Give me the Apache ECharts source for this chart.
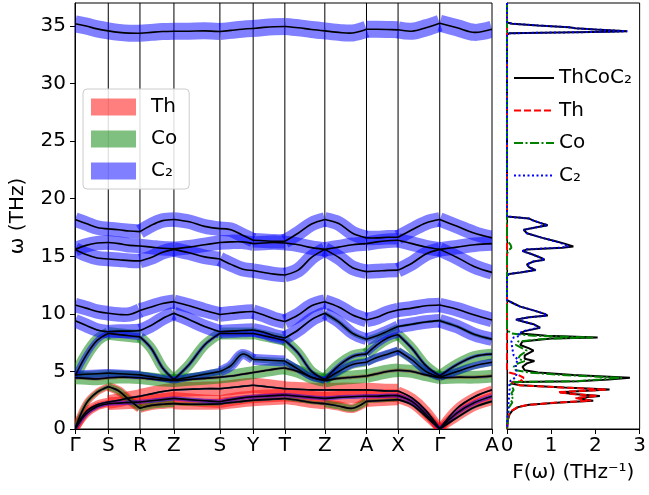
<!DOCTYPE html>
<html><head><meta charset="utf-8">
<script src="https://cdn.jsdelivr.net/npm/echarts@6/dist/echarts.min.js"></script>
<style>html,body{margin:0;padding:0;background:#fff}#c{width:649px;height:495px}</style>
</head><body><div id="c"></div>
<script>
// ---- k-path ----
const kLabels = ['Γ','S','R','Z','S','Y','T','Z','A','X','Γ','A'];
const kTicks = [0, 33.3, 65, 99, 145, 178.3, 210, 250, 291.7, 323.3, 365, 417.3];
const kGrid = [0,11.1,22.2, 33.3,43.9,54.4, 65,76.3,87.7, 99,114.3,129.7, 145,156.1,167.2,
  178.3,188.9,199.4, 210,223.3,236.7, 250,263.9,277.8, 291.7,302.2,312.8, 323.3,337.2,351.1, 365,382.4,399.9, 417.3];

// ---- phonon bands (THz) at kGrid ----
const bandTop = [35.2,35.0,34.75, 34.58,34.45,34.38, 34.37,34.45,34.52, 34.55,34.55,34.58, 34.52,34.62,34.72, 34.78,34.88,34.94, 34.96,34.85,34.7, 34.58,34.45,34.4, 34.72,34.72,34.7, 34.67,34.55,34.85, 35.25,34.85,34.45, 34.72];
const bandA = [18.2,17.85,17.5, 17.38,17.3,17.2, 17.14,17.7,18.1, 18.2,18.0,17.6, 17.4,17.3,16.85, 16.4,16.35,16.3, 16.3,17.0,17.8, 18.2,17.85,17.0, 16.6,16.6,16.65, 16.65,17.3,17.9, 18.2,17.6,17.0, 16.6];
const bandB = [15.6,15.95,16.15, 16.2,16.1,15.95, 15.9,15.8,15.7, 15.65,15.8,16.0, 16.2,16.25,16.25, 16.1,16.15,16.2, 16.15,16.0,15.75, 15.6,15.8,16.0, 16.1,16.25,16.35, 16.4,16.1,15.8, 15.6,15.8,16.0, 16.1];
const bandC = [15.6,15.15,14.85, 14.77,14.7,14.62, 14.6,14.9,15.35, 15.6,15.3,14.95, 14.77,14.3,13.9, 13.76,13.6,13.45, 13.38,13.8,14.9, 15.6,14.9,14.0, 13.67,13.72,13.78, 13.8,14.4,15.2, 15.6,14.9,14.1, 13.6];
const bandD = [10.77,10.5,10.2, 10.05,9.95,9.95, 10.3,10.6,10.9, 11.06,10.7,10.3, 9.95,10.05,10.15, 10.2,9.9,9.55, 9.33,9.9,10.7, 11.06,10.6,9.9, 9.47,9.7,10.1, 10.34,10.5,10.7, 10.77,10.4,9.9, 9.47];
const bandE = [9.41,9.0,8.6, 8.45,8.5,8.5, 8.55,9.0,9.6, 10.05,9.5,8.9, 8.45,8.5,8.55, 8.6,8.4,8.1, 7.9,8.6,9.5, 10.05,9.3,8.3, 7.8,8.1,8.5, 8.9,9.1,9.3, 9.41,8.9,8.2, 7.8];
const bandF = [4.6,6.4,7.7, 8.3,8.2,8.1, 8.0,7.0,5.3, 4.3,5.6,7.3, 8.3,8.3,8.3, 8.3,8.1,7.9, 7.7,6.6,5.0, 4.3,5.5,6.3, 6.5,7.3,7.9, 8.2,7.0,5.5, 4.6,5.6,6.3, 6.5];
const bandO5 = [4.7,4.75,4.8, 4.85,4.8,4.75, 4.7,4.55,4.4, 4.25,4.5,4.75, 5.0,5.5,6.5, 6.05,6.0,5.95, 5.9,5.2,4.5, 4.25,5.0,5.6, 5.8,6.2,6.5, 6.8,6.0,5.0, 4.5,5.0,5.5, 5.8];
const bandO4 = [4.45,4.4,4.35, 4.45,4.5,4.5, 4.45,4.35,4.25, 4.2,4.3,4.4, 4.5,4.6,4.75, 4.9,5.05,5.2, 5.3,5.0,4.5, 4.2,4.4,4.5, 4.6,4.8,5.0, 5.1,5.0,4.7, 4.45,4.5,4.5, 4.6];
const bandAcA = [0,2.2,3.2, 3.68,3.3,2.5, 1.8,2.05,2.15, 2.2,2.15,2.15, 2.17,2.3,2.4, 2.5,2.55,2.6, 2.65,2.5,2.3, 2.2,2.0,1.8, 2.4,2.45,2.5, 2.55,2.1,1.1, 0,1.0,1.9, 2.4];
const bandAcB = [0,1.5,2.1, 2.35,2.5,2.7, 2.85,3.05,3.25, 3.39,3.45,3.5, 3.5,3.6,3.7, 3.8,3.7,3.6, 3.5,3.45,3.4, 3.39,3.4,3.4, 3.4,3.35,3.3, 3.3,2.7,1.6, 0,1.8,2.8, 3.4];
const bandAcC = [0,1.3,1.95, 2.2,2.25,2.3, 2.35,2.45,2.55, 2.66,2.55,2.45, 2.37,2.55,2.7, 2.8,2.85,2.9, 2.95,2.85,2.75, 2.66,2.75,2.8, 2.85,2.85,2.9, 2.9,2.4,1.3, 0,1.4,2.3, 2.85];
const bands = [bandTop, bandA, bandB, bandC, bandD, bandE, bandF, bandO5, bandO4, bandAcA, bandAcB, bandAcC];

// ---- projection weights per band (rows) per path segment (11 cols) ----
const wTh = [
  [0,0,0,0,0,0,0,0,0,0,0],[0,0,0,0,0,0,0,0,0,0,0],[0,0,0,0,0,0,0,0,0,0,0],[0,0,0,0,0,0,0,0,0,0,0],
  [0,0,0,0,0,0,0,0,0,0,0],[0,0,0,0,0,0,0,0,0,0,0],[0,0,0,0,0,0,0,0,0,0,0],[0,0,0,0,0,0,0,0,0,0,0],
  [.2,.2,.2,.2,.15,.15,.2,.2,.2,.2,.2],
  [.4,.55,.55,.65,.7,.7,.65,.55,.65,.45,.45],
  [.5,.8,.85,.85,.9,.9,.85,.85,.85,.55,.5],
  [.45,.75,.75,.75,.75,.75,.75,.75,.75,.45,.45]];
const wCo = [
  [0,0,0,0,0,0,0,0,0,0,0],[0,0,0,0,0,0,0,0,0,0,0],[0,0,0,0,0,0,0,0,0,0,0],[0,0,0,0,0,0,0,0,0,0,0],
  [0,0,0,0,0,0,0,0,0,0,0],
  [.1,.15,.1,.1,.1,.1,.1,.25,.3,.15,.2],
  [.7,.75,.6,.6,.7,.65,.6,.7,.7,.6,.65],
  [.4,.4,.4,.4,.35,.35,.4,.5,.45,.45,.45],
  [.75,.75,.75,.75,.75,.75,.75,.8,.8,.75,.75],
  [.25,.4,.4,.2,.15,.15,.2,.4,.2,.15,.15],
  [.1,.1,.1,.1,.1,.1,.1,.1,.1,.1,.1],
  [.05,.05,.05,.05,.05,.05,.05,.05,.05,.05,.05]];
const wC2 = [
  [1,1,1,1,1,1,1,1,1,1,1],
  [.85,.85,.85,.85,.85,.85,.85,.85,.85,.85,.85],
  [.85,.85,.85,.85,.85,.85,.85,.85,.85,.85,.85],
  [.85,.85,.85,.85,.85,.85,.85,.85,.85,.85,.85],
  [.85,.85,.85,.85,.85,.85,.85,.85,.85,.85,.85],
  [.8,.8,.8,.8,.8,.8,.8,.7,.7,.8,.8],
  [.35,.4,.2,.2,.35,.35,.2,.25,.35,.2,.2],
  [.5,.5,.4,.4,.6,.65,.4,.4,.5,.4,.4],
  [.1,.1,.1,.1,.1,.1,.1,.1,.1,.1,.1],
  [.1,.1,.1,.1,.1,.1,.1,.1,.1,.1,.1],
  [.1,.1,.1,.1,.1,.1,.1,.1,.1,.1,.1],
  [.25,.25,.25,.25,.25,.25,.25,.25,.25,.25,.25]];

// ---- phonon DOS: [F(w) (1/THz), w (THz)] ----
const dosTot = [[0,37],[0,35.3],[0.02,35.22],[0.12,35.2],[0.7,35.05],[1.4,34.9],[1.55,34.8],[2.0,34.7],[2.72,34.55],[2.3,34.5],[0.8,34.42],[0.05,34.37],[0,34.25],
 [0,18.45],[0.03,18.32],[0.5,18.28],[0.6,18.1],[0.75,17.9],[0.92,17.7],[0.7,17.55],[0.38,17.3],[0.45,17.0],[0.8,16.6],[1.1,16.3],[1.3,16.1],[1.5,15.85],[1.25,15.75],[0.45,15.6],[0.35,15.45],[0.55,15.2],[0.75,14.9],[0.85,14.7],[0.6,14.55],[0.45,14.3],[0.5,14.05],[0.65,13.8],[0.3,13.6],[0.05,13.47],[0,13.3],
 [0,11.2],[0.03,11.08],[0.15,10.9],[0.3,10.63],[0.6,10.3],[0.85,10.0],[0.92,9.85],[0.5,9.7],[0.2,9.5],[0.4,9.3],[0.6,9.1],[0.75,8.8],[0.4,8.5],[0.3,8.3],[0.9,8.1],[2.05,7.95],[1.0,7.85],[0.35,7.6],[0.3,7.3],[0.5,7.0],[0.6,6.8],[0.4,6.4],[0.4,6.1],[0.62,5.9],[0.45,5.7],[0.35,5.4],[0.4,5.1],[0.7,4.9],[1.5,4.7],[2.78,4.45],[2.3,4.3],[1.6,4.15],[0.2,4.08],[0.1,3.95],[0.3,3.8],[1.3,3.6],[2.32,3.42],[1.8,3.32],[1.2,3.2],[1.5,3.05],[2.1,2.87],[1.6,2.7],[1.8,2.55],[1.95,2.46],[1.2,2.3],[0.5,2.1],[0.25,1.9],[0.12,1.6],[0.06,1.3],[0.02,0.8],[0,0]];
const dosTh = [[0,37],[0,5.2],[0.05,4.9],[0.25,4.7],[0.38,4.45],[0.3,4.3],[0.35,4.15],[0.1,4.08],[0.08,3.95],[0.28,3.8],[1.25,3.6],[2.25,3.42],[1.75,3.32],[1.15,3.2],[1.45,3.05],[2.05,2.87],[1.55,2.7],[1.75,2.55],[1.9,2.46],[1.15,2.3],[0.48,2.1],[0.24,1.9],[0.11,1.6],[0.05,1.3],[0.02,0.8],[0,0]];
const dosCo = [[0,37],[0,16.4],[0.08,16.0],[0.1,15.75],[0.03,15.5],[0,15.2],[0,8.6],[0.1,8.3],[0.6,8.1],[1.95,7.95],[0.9,7.85],[0.25,7.6],[0.2,7.3],[0.35,7.0],[0.45,6.8],[0.3,6.4],[0.25,6.1],[0.4,5.9],[0.25,5.7],[0.15,5.4],[0.2,5.1],[0.5,4.9],[1.2,4.7],[2.6,4.45],[2.1,4.3],[1.55,4.15],[0.15,4.08],[0.08,3.95],[0.12,3.6],[0.15,3.4],[0.1,3.1],[0.15,2.8],[0.08,2.55],[0.12,2.3],[0.05,1.9],[0.02,1.0],[0,0]];
const dosC2 = [[0,37],[0,35.3],[0.02,35.22],[0.12,35.2],[0.7,35.05],[1.4,34.9],[1.55,34.8],[2.0,34.7],[2.72,34.55],[2.3,34.5],[0.8,34.42],[0.05,34.37],[0,34.25],
 [0,18.45],[0.03,18.32],[0.5,18.28],[0.6,18.1],[0.75,17.9],[0.92,17.7],[0.7,17.55],[0.38,17.3],[0.45,17.0],[0.8,16.6],[1.1,16.3],[1.25,16.1],[1.4,15.85],[1.2,15.75],[0.42,15.6],[0.35,15.45],[0.55,15.2],[0.75,14.9],[0.85,14.7],[0.6,14.55],[0.45,14.3],[0.5,14.05],[0.65,13.8],[0.3,13.6],[0.05,13.47],[0,13.3],
 [0,11.2],[0.03,11.08],[0.15,10.9],[0.3,10.63],[0.6,10.3],[0.85,10.0],[0.9,9.85],[0.5,9.7],[0.2,9.5],[0.4,9.3],[0.6,9.1],[0.72,8.8],[0.38,8.5],[0.25,8.3],[0.3,8.1],[0.15,7.95],[0.1,7.6],[0.12,7.0],[0.15,6.4],[0.25,6.0],[0.2,5.7],[0.2,5.3],[0.22,4.9],[0.2,4.5],[0.08,4.2],[0.05,3.9],[0.06,3.5],[0.05,3.0],[0.04,2.5],[0.03,2.0],[0.01,1.0],[0,0]];

// ---- axis ticks ----
const freqTicks = [0,5,10,15,20,25,30,35];

const FONT = 'DejaVu Sans';
const FS = 20;
const chart = echarts.init(document.getElementById('c'), null, {renderer:'canvas'});

function segPts(api, band, s) {
  const pts = [];
  for (let j = s*3; j <= s*3+3; j++) pts.push(api.coord([kGrid[j], band[j]]));
  return pts;
}
function fatSeries(name, color, W) {
  return {
    type:'custom', name, coordinateSystem:'cartesian2d', xAxisIndex:0, yAxisIndex:0,
    itemStyle:{color}, clip:true, silent:true, z:2,
    data: bands.map((b,i)=>[0,0,i]),
    encode:{x:0,y:1},
    renderItem:(params, api) => {
      const bi = params.dataIndex, children = [];
      for (let s=0; s<11; s++) {
        const w = W[bi][s];
        if (!w) continue;
        children.push({type:'polyline', shape:{points:segPts(api,bands[bi],s), smooth:0.35},
          style:{stroke:color, lineWidth:w*17, fill:'none', lineCap:'butt', lineJoin:'round'}});
      }
      return {type:'group', children};
    }
  };
}
const lineSeries = {
  type:'custom', name:'bands', coordinateSystem:'cartesian2d', xAxisIndex:0, yAxisIndex:0,
  clip:true, silent:true, z:5,
  data: bands.map((b,i)=>[0,0,i]), encode:{x:0,y:1},
  renderItem:(params, api) => {
    const bi = params.dataIndex, children = [];
    for (let s=0; s<11; s++) children.push({type:'polyline', shape:{points:segPts(api,bands[bi],s), smooth:0.35},
      style:{stroke:'#000', lineWidth:1.6, fill:'none', lineJoin:'round'}});
    return {type:'group', children};
  }
};
const vlineSeries = {
  type:'custom', name:'vlines', coordinateSystem:'cartesian2d', xAxisIndex:0, yAxisIndex:0,
  silent:true, z:1,
  data: kTicks.slice(1,-1).map(k=>[k,0]), encode:{x:0,y:1},
  renderItem:(params, api) => {
    const a = api.coord([api.value(0), 0]), b = api.coord([api.value(0), 37]);
    return {type:'line', shape:{x1:a[0],y1:a[1],x2:b[0],y2:b[1]}, style:{stroke:'#000', lineWidth:1}};
  }
};
function dosSeries(name, data, color, type, width, z) {
  return {type:'line', name, xAxisIndex:1, yAxisIndex:1, data, symbol:'none', showSymbol:false,
    lineStyle:{color, type, width}, itemStyle:{color}, z, silent:true, animation:false};
}
const labelMap = {Th:'Th', Co:'Co', C2:'C₂', dTot:'ThCoC₂', dTh:'Th', dCo:'Co', dC2:'C₂'};

chart.setOption({
  animation:false,
  backgroundColor:'#fff',
  grid:[
    {left:75, top:3, width:417, height:426, show:true, borderColor:'#000', borderWidth:1, backgroundColor:'transparent'},
    {left:507, top:3, width:138, height:426, show:true, borderColor:'#000', borderWidth:1, backgroundColor:'transparent'}
  ],
  xAxis:[
    {type:'value', gridIndex:0, min:0, max:417.3,
     axisLine:{show:true, lineStyle:{color:'#000', width:1}},
     axisTick:{show:true, customValues:kTicks, length:5, lineStyle:{color:'#000'}},
     axisLabel:{show:true, customValues:kTicks, margin:7, fontFamily:FONT, fontSize:FS, color:'#000',
       showMinLabel:true, showMaxLabel:true,
       formatter:(v)=>{let bi=0,bd=1e9; kTicks.forEach((k,i)=>{const d=Math.abs(k-v); if(d<bd){bd=d;bi=i;}}); return kLabels[bi];}},
     splitLine:{show:false}},
    {type:'value', gridIndex:1, min:0, max:3, interval:1,
     name:'F(ω) (THz⁻¹)', nameLocation:'middle', nameGap:34,
     nameTextStyle:{fontFamily:FONT, fontSize:FS, color:'#000'},
     axisLine:{show:true, lineStyle:{color:'#000'}},
     axisTick:{show:true, length:5, lineStyle:{color:'#000'}},
     axisLabel:{margin:7, fontFamily:FONT, fontSize:FS, color:'#000', formatter:(v)=>String(v), showMinLabel:true, showMaxLabel:true},
     splitLine:{show:false}}
  ],
  yAxis:[
    {type:'value', gridIndex:0, min:0, max:37, interval:5,
     name:'ω (THz)', nameLocation:'middle', nameGap:47,
     nameTextStyle:{fontFamily:FONT, fontSize:FS, color:'#000'},
     axisLine:{show:true, lineStyle:{color:'#000'}},
     axisTick:{show:true, length:5, lineStyle:{color:'#000'}, customValues:freqTicks},
     axisLabel:{margin:9, fontFamily:FONT, fontSize:FS, color:'#000', customValues:freqTicks},
     splitLine:{show:false}},
    {type:'value', gridIndex:1, min:0, max:37, interval:5,
     axisLine:{show:true, lineStyle:{color:'#000'}}, axisTick:{show:false}, axisLabel:{show:false}, splitLine:{show:false}}
  ],
  legend:[
    {data:['Th','Co','C2'], orient:'vertical', left:83, top:89, icon:'rect', itemWidth:45, itemHeight:17, itemGap:12,
     backgroundColor:'rgba(255,255,255,0.85)', borderColor:'#cccccc', borderWidth:1, borderRadius:4, padding:[8,12,8,8],
     textStyle:{fontFamily:FONT, fontSize:FS, color:'#000', padding:[0,0,0,10]}, formatter:(n)=>labelMap[n], selectedMode:false},
    {data:['dTot','dTh','dCo','dC2'], orient:'vertical', left:513, top:68, itemWidth:40, itemHeight:14, itemGap:12.5,
     itemStyle:{opacity:0}, padding:0,
     textStyle:{fontFamily:FONT, fontSize:FS, color:'#000'}, formatter:(n)=>labelMap[n], selectedMode:false}
  ],
  series:[
    vlineSeries,
    fatSeries('Th','rgba(255,0,0,0.5)', wTh),
    fatSeries('Co','rgba(0,128,0,0.5)', wCo),
    fatSeries('C2','rgba(0,0,255,0.5)', wC2),
    lineSeries,
    dosSeries('dTot', dosTot, '#000', 'solid', 2, 3),
    dosSeries('dTh', dosTh, '#ff0000', [7,3], 2, 4),
    dosSeries('dCo', dosCo, '#008000', [9,2.5,2,2.5], 2, 5),
    dosSeries('dC2', dosC2, '#0000ff', [2,2.5], 2, 6)
  ]
});
</script></body></html>
